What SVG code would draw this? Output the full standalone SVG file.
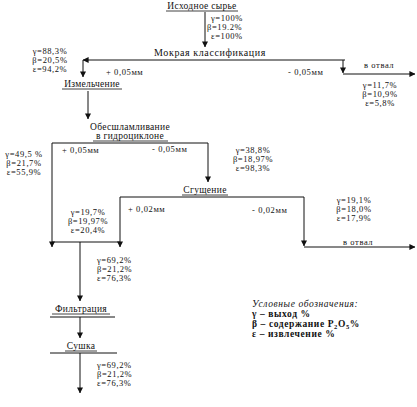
<svg xmlns="http://www.w3.org/2000/svg" width="417" height="407" viewBox="0 0 417 407">
<style>
text{font-family:"Liberation Serif","Times New Roman",serif;font-size:10px;fill:#111}
.n{font-size:9.5px;letter-spacing:0.3px}
.d{font-size:8.5px;letter-spacing:0.6px}
.c{text-anchor:middle}
.lg{font-weight:bold;font-size:9.5px;letter-spacing:0.6px}
.it{font-style:italic;font-weight:normal}
.u{stroke:#111;stroke-width:0.8}
.k{fill:none;stroke:#111;stroke-width:1}
.a{marker-end:url(#ah)}
</style>
<defs>
<marker id="ah" viewBox="0 0 8 8" refX="7.5" refY="4" markerWidth="6" markerHeight="6" orient="auto" markerUnits="userSpaceOnUse"><path d="M0,0 L8,4 L0,8 z" fill="#111"/></marker>
</defs>
<rect width="417" height="407" fill="#fff"/>
<g id="connectors">
<path class="k a" d="M205,12 V47"/>
<path class="k a" d="M345,60 H83"/>
<path class="k a" d="M83,60 V77"/>
<path class="k a" d="M343,60 V73"/>
<path class="k a" d="M343,74 H415"/>
<path class="k a" d="M88,91 V119"/>
<path class="k a" d="M52,143 V247"/>
<path class="k a" d="M52,143 H208 V182"/>
<path class="k a" d="M120,197 V247"/>
<path class="k a" d="M120,197 H304 V246"/>
<path class="k a" d="M304,247 H415"/>
<path class="k" d="M52,242 H120"/>
<path class="k a" d="M80,242 V301"/>
<path class="k" d="M50,317 H115"/>
<path class="k a" d="M80,317 V338"/>
<path class="k" d="M50,353 H117"/>
<path class="k a" d="M80,353 V393"/>
</g>
<g id="raw">
<text class="n c" x="202" y="9">Исходное сырье</text>
<line class="u" x1="166" y1="11" x2="238" y2="11"/>
</g>
<g id="d1">
<text class="d" x="211" y="21">γ=100%</text>
<text class="d" x="207" y="30">β=19.2%</text>
<text class="d" x="211" y="39">ε=100%</text>
</g>
<g id="classif">
<text class="c" x="210" y="56" style="letter-spacing:0.6px">Мокрая классификация</text>
</g>
<g id="lbl1">
<text class="d" x="106" y="75">+ 0,05мм</text>
<text class="d" x="288" y="75">- 0,05мм</text>
<text class="d" x="364" y="68">в отвал</text>
</g>
<g id="d2">
<text class="d c" x="50" y="54">γ=88,3%</text>
<text class="d c" x="50" y="63">β=20,5%</text>
<text class="d c" x="50" y="72">ε=94,2%</text>
</g>
<g id="d3">
<text class="d c" x="380" y="88">γ=11,7%</text>
<text class="d c" x="380" y="97">β=10,9%</text>
<text class="d c" x="380" y="106">ε=5,8%</text>
</g>
<g id="grind">
<text class="n c" x="92" y="87">Измельчение</text>
<line class="u" x1="62" y1="89" x2="122" y2="89"/>
</g>
<g id="hydro">
<text class="n c" x="130" y="130">Обесшламливание</text>
<text class="n c" x="130" y="139">в гидроциклоне</text>
<line class="u" x1="93" y1="141" x2="168" y2="141"/>
</g>
<g id="lbl2">
<text class="d" x="62" y="153">+ 0,05мм</text>
<text class="d" x="152" y="152">- 0,05мм</text>
</g>
<g id="d4">
<text class="d c" x="24" y="157">γ=49,5 %</text>
<text class="d c" x="24" y="166">β=21,7%</text>
<text class="d c" x="24" y="175">ε=55,9%</text>
</g>
<g id="d5">
<text class="d c" x="253" y="153">γ=38,8%</text>
<text class="d c" x="253" y="162">β=18,97%</text>
<text class="d c" x="253" y="171">ε=98,3%</text>
</g>
<g id="thick">
<text class="n c" x="205" y="193">Сгущение</text>
<line class="u" x1="182" y1="195" x2="228" y2="195"/>
</g>
<g id="lbl3">
<text class="d" x="128" y="212">+ 0,02мм</text>
<text class="d" x="252" y="213">- 0,02мм</text>
<text class="d" x="343" y="245">в отвал</text>
</g>
<g id="d6">
<text class="d c" x="354" y="203">γ=19,1%</text>
<text class="d c" x="354" y="212">β=18,0%</text>
<text class="d c" x="354" y="221">ε=17,9%</text>
</g>
<g id="d7">
<text class="d c" x="88" y="215">γ=19,7%</text>
<text class="d c" x="88" y="224">β=19,97%</text>
<text class="d c" x="88" y="233">ε=20,4%</text>
</g>
<g id="d8">
<text class="d" x="97" y="263">γ=69,2%</text>
<text class="d" x="97" y="272">β=21,2%</text>
<text class="d" x="97" y="281">ε=76,3%</text>
</g>
<g id="filter">
<text class="n c" x="81" y="312">Фильтрация</text>
<line class="u" x1="52" y1="314" x2="110" y2="314"/>
</g>
<g id="dry">
<text class="n c" x="81" y="349">Сушка</text>
<line class="u" x1="65" y1="351" x2="97" y2="351"/>
</g>
<g id="d9">
<text class="d" x="97" y="368">γ=69,2%</text>
<text class="d" x="97" y="377">β=21,2%</text>
<text class="d" x="97" y="386">ε=76,3%</text>
</g>
<g id="legend">
<text class="lg it" x="252" y="307">Условные обозначения:</text>
<text class="lg" x="252" y="317">γ – выход %</text>
<text class="lg" x="252" y="327">β – содержание P<tspan font-size="6.5" dy="1.5">2</tspan><tspan dy="-1.5">O</tspan><tspan font-size="6.5" dy="1.5">5</tspan><tspan dy="-1.5">%</tspan></text>
<text class="lg" x="252" y="337">ε – извлечение %</text>
</g>
</svg>
